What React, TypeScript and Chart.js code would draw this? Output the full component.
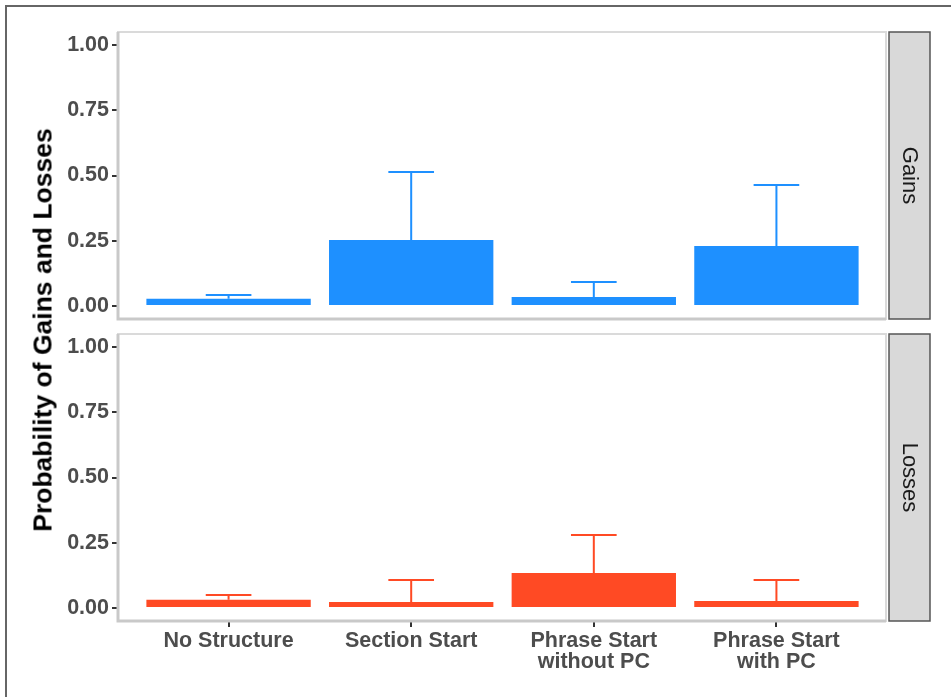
import React, { useEffect, useRef } from "react";
import { Chart, registerables } from "chart.js";

Chart.register(...registerables);

const categories: (string | string[])[] = [
  "No Structure",
  "Section Start",
  ["Phrase Start", "without PC"],
  ["Phrase Start", "with PC"],
];
const gainsMean = [0.028, 0.253, 0.034, 0.23];
const gainsUpper = [0.042, 0.513, 0.092, 0.464];
const lossesMean = [0.031, 0.023, 0.134, 0.027];
const lossesUpper = [0.05, 0.107, 0.28, 0.107];
const yTicks = [0, 0.25, 0.5, 0.75, 1];
const panelLabels = ["Gains", "Losses"];
const yTitle = "Probability of Gains and Losses";

const GAINS_COLOR = "#1E90FF";
const LOSSES_COLOR = "#FF4A24";
const FONT = "'Liberation Sans', Arial, Helvetica, sans-serif";

function makePlugins(mean: number[], upper: number[], color: string, strip: string) {
  return [
    {
      id: "panelBorder",
      beforeDatasetsDraw(chart: any) {
        const { ctx, chartArea: a } = chart;
        ctx.save();
        ctx.strokeStyle = "#dadada";
        ctx.lineWidth = 2;
        ctx.strokeRect(a.left - 1, a.top, a.right - a.left + 1, a.bottom - a.top);
        ctx.strokeStyle = "#c9c9c9";
        ctx.lineWidth = 3;
        ctx.beginPath();
        ctx.moveTo(a.left - 1, a.top);
        ctx.lineTo(a.left - 1, a.bottom);
        ctx.lineTo(a.right, a.bottom);
        ctx.stroke();
        ctx.restore();
      },
      afterDatasetsDraw(chart: any) {
        const { ctx, chartArea: a } = chart;
        const xs = chart.scales.x;
        const ys = chart.scales.y;
        const half = xs.getPixelForValue(0.125) - xs.getPixelForValue(0);
        ctx.save();
        ctx.strokeStyle = color;
        ctx.lineWidth = 2;
        for (let i = 0; i < mean.length; i++) {
          const x = xs.getPixelForValue(i);
          const y1 = ys.getPixelForValue(mean[i]);
          const y2 = ys.getPixelForValue(upper[i]);
          ctx.beginPath();
          ctx.moveTo(x, y1);
          ctx.lineTo(x, y2);
          ctx.moveTo(x - half, y2);
          ctx.lineTo(x + half, y2);
          ctx.stroke();
        }
        // strip
        const sx = a.right + 3;
        const sw = 41;
        ctx.fillStyle = "#d9d9d9";
        ctx.fillRect(sx, a.top, sw, a.bottom - a.top);
        ctx.strokeStyle = "#555555";
        ctx.lineWidth = 1.5;
        ctx.strokeRect(sx, a.top, sw, a.bottom - a.top);
        ctx.translate(sx + sw / 2, (a.top + a.bottom) / 2);
        ctx.rotate(Math.PI / 2);
        ctx.fillStyle = "#1a1a1a";
        ctx.font = `22px ${FONT}`;
        ctx.textAlign = "center";
        ctx.textBaseline = "middle";
        ctx.fillText(strip, 0, 0);
        ctx.restore();
      },
    },
  ];
}

function makeConfig(
  mean: number[],
  upper: number[],
  color: string,
  strip: string,
  showX: boolean,
  padTop: number,
  padBottom: number,
  xHeight: number
): any {
  return {
    type: "bar",
    data: {
      datasets: [
        {
          data: mean.map((v, i) => ({ x: i, y: v })),
          backgroundColor: color,
          borderWidth: 0,
          barPercentage: 0.9,
          categoryPercentage: 1,
        },
      ],
    },
    options: {
      responsive: false,
      animation: false,
      layout: { padding: { left: 59, right: 66, top: padTop, bottom: padBottom } },
      plugins: { legend: { display: false }, tooltip: { enabled: false } },
      scales: {
        x: {
          type: "linear",
          display: showX,
          offset: false,
          min: -0.6,
          max: 3.6,
          afterBuildTicks: (s: any) => {
            s.ticks = categories.map((_, i) => ({ value: i }));
          },
          afterFit: (s: any) => {
            s.height = xHeight;
            s.paddingLeft = 0;
            s.paddingRight = 0;
          },
          grid: {
            drawOnChartArea: false,
            drawTicks: true,
            tickLength: 6,
            color: "#333333",
            lineWidth: 2,
            offset: false,
          },
          border: { display: false },
          ticks: {
            autoSkip: false,
            maxRotation: 0,
            padding: 3,
            color: "#4d4d4d",
            font: { family: FONT, size: 21.5, weight: "bold", lineHeight: 1.0 },
            callback: (v: any) => categories[Math.round(v)],
          },
        },
        y: {
          type: "linear",
          min: -0.05,
          max: 1.05,
          afterBuildTicks: (s: any) => {
            s.ticks = yTicks.map((v) => ({ value: v }));
          },
          afterFit: (s: any) => {
            s.width = 60;
            s.paddingTop = 0;
            s.paddingBottom = 0;
          },
          grid: {
            drawOnChartArea: false,
            drawTicks: true,
            tickLength: 7,
            color: "#333333",
            lineWidth: 2,
          },
          border: { display: false },
          ticks: {
            padding: 3,
            color: "#4d4d4d",
            font: { family: FONT, size: 21.5, weight: "bold" },
            callback: (v: any) => Number(v).toFixed(2),
          },
        },
      },
    },
    plugins: makePlugins(mean, upper, color, strip),
  };
}

export default function App() {
  const topRef = useRef<HTMLCanvasElement>(null);
  const botRef = useRef<HTMLCanvasElement>(null);

  useEffect(() => {
    const c1 = new Chart(
      topRef.current!,
      makeConfig(gainsMean, gainsUpper, GAINS_COLOR, panelLabels[0], false, 32, 11, 0)
    );
    const c2 = new Chart(
      botRef.current!,
      makeConfig(lossesMean, lossesUpper, LOSSES_COLOR, panelLabels[1], true, 4, 0, 76)
    );
    return () => {
      c1.destroy();
      c2.destroy();
    };
  }, []);

  return (
    <div style={{ position: "absolute", left: 0, top: 0, width: 952, height: 697, overflow: "hidden", background: "#fff" }}>
      <div
        style={{
          position: "absolute",
          left: 5,
          top: 5,
          width: 944,
          height: 720,
          borderTop: "2px solid #666",
          borderLeft: "2px solid #666",
        }}
      />
      <canvas ref={topRef} width={952} height={330} style={{ position: "absolute", left: 0, top: 0, width: 952, height: 330 }} />
      <canvas ref={botRef} width={952} height={367} style={{ position: "absolute", left: 0, top: 330, width: 952, height: 367 }} />
      <div
        style={{
          position: "absolute",
          left: 43,
          top: 330,
          transform: "translate(-50%, -50%) rotate(-90deg)",
          whiteSpace: "nowrap",
          fontFamily: FONT,
          fontWeight: "bold",
          fontSize: 26.5,
          color: "#000",
        }}
      >
        {yTitle}
      </div>
    </div>
  );
}
